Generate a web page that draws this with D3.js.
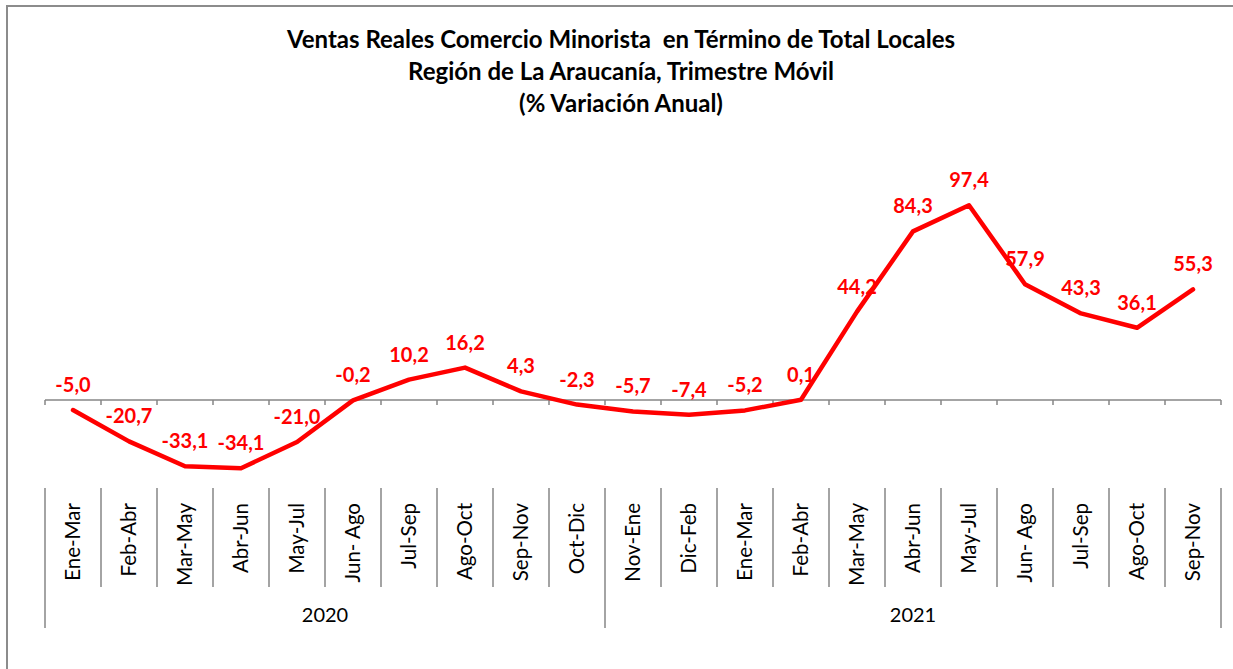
<!DOCTYPE html>
<html>
<head>
<meta charset="utf-8">
<script src="https://cdn.jsdelivr.net/npm/d3@7"></script>
<style>
  html, body { margin: 0; padding: 0; background: #ffffff; }
  svg { display: block; }
  .title { white-space: pre; }
</style>
</head>
<body>
<svg id="chart"></svg>
<script>
const titleLines = [
    "Ventas Reales Comercio Minorista  en Término de Total Locales",
    "Región de La Araucanía, Trimestre Móvil",
    "(% Variación Anual)"
];

const periods = [
    "Ene-Mar", "Feb-Abr", "Mar-May", "Abr-Jun", "May-Jul", "Jun- Ago", "Jul-Sep",
    "Ago-Oct", "Sep-Nov", "Oct-Dic", "Nov-Ene", "Dic-Feb", "Ene-Mar", "Feb-Abr",
    "Mar-May", "Abr-Jun", "May-Jul", "Jun- Ago", "Jul-Sep", "Ago-Oct", "Sep-Nov"
];

const years = ["2020", "2021"];
// how many periods belong to each year group
const yearCounts = [10, 11];

const values = [
    -5.0, -20.7, -33.1, -34.1, -21.0, -0.2, 10.2, 16.2, 4.3, -2.3,
    -5.7, -7.4, -5.2, 0.1, 44.2, 84.3, 97.4, 57.9, 43.3, 36.1, 55.3
];

const width = 1233, height = 669;
const font = "Lato, 'Open Sans', sans-serif";
const axisColor = "#868686";
const lineColor = "#ff0000";

const data = values.map((v, i) => ({ key: i, period: periods[i], value: v }));

const svg = d3.select("#chart")
    .attr("width", width)
    .attr("height", height);

// outer frame (left + top edges visible)
svg.append("path")
    .attr("d", `M7,${height} L7,6 L${width},6`)
    .attr("fill", "none")
    .attr("stroke", "#8c8c8c")
    .attr("stroke-width", 2);

// title
svg.append("g")
    .selectAll("text")
    .data(titleLines)
    .enter()
    .append("text")
    .attr("class", "title")
    .attr("x", 621)
    .attr("y", (d, i) => 48 + i * 32)
    .attr("text-anchor", "middle")
    .attr("font-family", font)
    .attr("font-weight", "bold")
    .attr("font-size", "24px")
    .attr("fill", "#000")
    .text(d => d);

const x = d3.scaleBand()
    .domain(data.map(d => d.key))
    .range([45, 1221])
    .padding(0);

const y = d3.scaleLinear()
    .domain([-40, 120])
    .range([480, 160]);

const cx = d => x(d.key) + x.bandwidth() / 2;

// horizontal axis at zero with short ticks at category boundaries
const bounds = data.map(d => x(d.key)).concat([x.range()[1]]);
const y0 = y(0);

svg.append("line")
    .attr("x1", x.range()[0])
    .attr("x2", x.range()[1])
    .attr("y1", y0)
    .attr("y2", y0)
    .attr("stroke", axisColor)
    .attr("stroke-width", 1.5);

svg.append("g")
    .selectAll("line")
    .data(bounds)
    .enter()
    .append("line")
    .attr("x1", d => d)
    .attr("x2", d => d)
    .attr("y1", y0)
    .attr("y2", y0 + 5)
    .attr("stroke", axisColor)
    .attr("stroke-width", 1.5);

// category separators below the plot
const groupEdges = [0];
yearCounts.forEach(c => groupEdges.push(groupEdges[groupEdges.length - 1] + c));
const groupBounds = groupEdges.map(i => i < data.length ? x(i) : x.range()[1]);

svg.append("g")
    .selectAll("line")
    .data(bounds)
    .enter()
    .append("line")
    .attr("x1", d => d)
    .attr("x2", d => d)
    .attr("y1", 488)
    .attr("y2", d => groupBounds.some(g => Math.abs(g - d) < 0.5) ? 628 : 587)
    .attr("stroke", axisColor)
    .attr("stroke-width", 1.5);

// rotated period labels
svg.append("g")
    .selectAll("text")
    .data(data)
    .enter()
    .append("text")
    .attr("transform", d => `translate(${cx(d)},503) rotate(-90)`)
    .attr("dy", "0.35em")
    .attr("text-anchor", "end")
    .attr("font-family", font)
    .attr("font-size", "20.5px")
    .attr("fill", "#000")
    .text(d => d.period);

// year labels
svg.append("g")
    .selectAll("text")
    .data(years)
    .enter()
    .append("text")
    .attr("x", (d, i) => (groupBounds[i] + groupBounds[i + 1]) / 2)
    .attr("y", 622)
    .attr("text-anchor", "middle")
    .attr("font-family", font)
    .attr("font-size", "20px")
    .attr("fill", "#000")
    .text(d => d);

// the series line
const line = d3.line()
    .x(d => cx(d))
    .y(d => y(d.value));

svg.append("path")
    .datum(data)
    .attr("fill", "none")
    .attr("stroke", lineColor)
    .attr("stroke-width", 4.5)
    .attr("stroke-linejoin", "round")
    .attr("stroke-linecap", "round")
    .attr("d", line);

// data labels above each point
const fmt = v => v.toFixed(1).replace(".", ",");

svg.append("g")
    .selectAll("text")
    .data(data)
    .enter()
    .append("text")
    .attr("x", d => cx(d))
    .attr("y", d => y(d.value) - 18)
    .attr("text-anchor", "middle")
    .attr("font-family", font)
    .attr("font-weight", "bold")
    .attr("font-size", "20px")
    .attr("fill", lineColor)
    .text(d => fmt(d.value));
</script>
</body>
</html>
